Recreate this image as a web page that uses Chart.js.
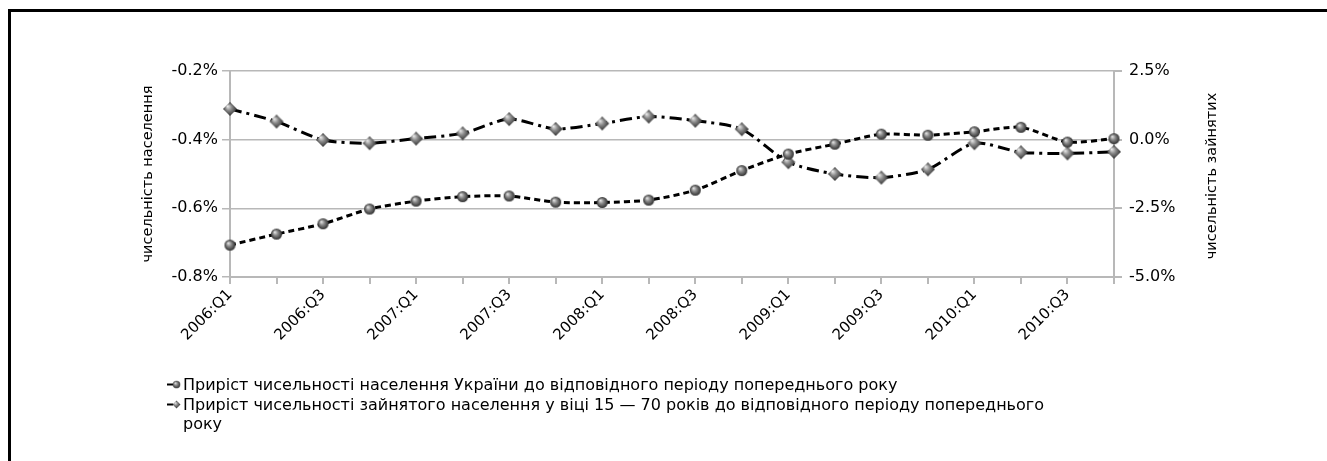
<!DOCTYPE html>
<html>
<head>
<meta charset="utf-8">
<script src="https://cdn.jsdelivr.net/npm/chart.js@4.4.1/dist/chart.umd.min.js"></script>
<style>
  html, body { margin: 0; padding: 0; background: #fff; overflow: hidden; }
  #wrap { position: relative; width: 1327px; height: 461px; }
  #c { position: absolute; left: 0; top: 0; }
  #frame { position: absolute; left: 8px; top: 9px; width: 1340px; height: 470px;
           border: 3px solid #000; box-sizing: border-box; pointer-events: none; }
  #legend { position: absolute; left: 166px; top: 375px; width: 897px;
            font: 16px "DejaVu Sans", sans-serif; color: #000; line-height: 19.5px; }
  .item { position: relative; padding-left: 17px; }
  .item canvas { position: absolute; left: 0; top: 4px; }
</style>
</head>
<body>
<div id="wrap">
  <canvas id="c" width="1327" height="461"></canvas>
  <div id="legend"></div>
  <div id="frame"></div>
</div>
<script>
// quarters 2006:Q1 .. 2010:Q4
const quarters = ['2006:Q1','2006:Q2','2006:Q3','2006:Q4',
                  '2007:Q1','2007:Q2','2007:Q3','2007:Q4',
                  '2008:Q1','2008:Q2','2008:Q3','2008:Q4',
                  '2009:Q1','2009:Q2','2009:Q3','2009:Q4',
                  '2010:Q1','2010:Q2','2010:Q3','2010:Q4'];

// приріст населення України, % (ліва вісь)
const popGrowth = [-0.707, -0.675, -0.645, -0.602, -0.579, -0.566, -0.564, -0.582,
                   -0.583, -0.576, -0.547, -0.490, -0.442, -0.413, -0.384, -0.387,
                   -0.377, -0.364, -0.407, -0.397];

// приріст зайнятого населення 15-70 років, % (права вісь)
const empGrowth = [1.12, 0.66, -0.01, -0.13, 0.04, 0.23, 0.75, 0.39,
                   0.59, 0.84, 0.69, 0.38, -0.82, -1.25, -1.38, -1.08,
                   -0.13, -0.46, -0.50, -0.44];

const popLabel = 'Приріст чисельності населення України до відповідного періоду попереднього року';
const empLabel = 'Приріст чисельності зайнятого населення у віці 15 — 70 років до відповідного періоду попереднього року';

const leftTitle = 'чисельність населення';
const rightTitle = 'чисельність зайнятих';

const FONT = '"DejaVu Sans", sans-serif';

// маркери з градієнтом (кулька / ромб)
function makeMarker(kind, r) {
  let c = document.createElement('canvas');
  c.width = c.height = r * 2 + 2;
  let x = c.getContext('2d');
  let m = r + 1;
  let g = x.createRadialGradient(m - r * 0.35, m - r * 0.4, 0, m, m, r);
  g.addColorStop(0, '#f2f2f2');
  g.addColorStop(0.45, '#8a8a8a');
  g.addColorStop(1, '#2e2e2e');
  x.fillStyle = g;
  x.beginPath();
  if (kind === 'circle') {
    x.arc(m, m, r, 0, Math.PI * 2);
  } else {
    x.moveTo(m, m - r); x.lineTo(m + r, m); x.lineTo(m, m + r); x.lineTo(m - r, m);
    x.closePath();
  }
  x.fill();
  return c;
}

const sphere = makeMarker('circle', 5.5);
const diamond = makeMarker('diamond', 7);

const axisTitles = {
  id: 'axisTitles',
  afterDraw(chart) {
    let ctx = chart.ctx, a = chart.chartArea;
    let cy = (a.top + a.bottom) / 2;
    [[leftTitle, 148, cy], [rightTitle, 1212, cy + 2]].forEach(([t, x, y]) => {
      ctx.save();
      ctx.font = '14.5px ' + FONT;
      ctx.fillStyle = '#000';
      ctx.textAlign = 'center';
      ctx.textBaseline = 'middle';
      ctx.translate(x, y);
      ctx.rotate(-Math.PI / 2);
      ctx.fillText(t, 0, 0);
      ctx.restore();
    });
  }
};

const gridColor = '#b8b8b8';

const chart = new Chart(document.getElementById('c'), {
  type: 'line',
  data: {
    labels: quarters,
    datasets: [{
      label: popLabel,
      data: popGrowth,
      yAxisID: 'y',
      borderColor: '#000',
      borderWidth: 3,
      borderDash: [6, 4],
      tension: 0.25,
      pointStyle: sphere,
      pointRadius: 5
    }, {
      label: empLabel,
      data: empGrowth,
      yAxisID: 'y1',
      borderColor: '#000',
      borderWidth: 3,
      borderDash: [12, 5, 3, 5],
      tension: 0.25,
      pointStyle: diamond,
      pointRadius: 6
    }]
  },
  options: {
    responsive: false,
    animation: false,
    layout: { padding: { top: 71, left: 0, right: 0, bottom: 0 } },
    plugins: { legend: { display: false }, tooltip: { enabled: false } },
    scales: {
      x: {
        offset: false,
        grid: { drawOnChartArea: false, color: gridColor, lineWidth: 2, tickLength: 7 },
        border: { color: gridColor, width: 2 },
        ticks: {
          autoSkip: false, minRotation: 45, maxRotation: 45, padding: 2,
          color: '#000', font: { family: FONT, size: 15 },
          callback: (v, i) => i % 2 === 0 ? quarters[i] : ''
        },
        afterFit: s => { s.height = 184; }
      },
      y: {
        position: 'left',
        min: -0.8, max: -0.2,
        grid: { color: gridColor, lineWidth: 1.5, tickLength: 8 },
        border: { color: gridColor, width: 2 },
        ticks: {
          stepSize: 0.2, padding: 4, color: '#000', font: { family: FONT, size: 16 },
          callback: v => v.toFixed(1) + '%'
        },
        afterFit: s => { s.width = 230; }
      },
      y1: {
        position: 'right',
        min: -5, max: 2.5,
        grid: { drawOnChartArea: false, color: gridColor, lineWidth: 2, tickLength: 8 },
        border: { color: gridColor, width: 2 },
        ticks: {
          stepSize: 2.5, padding: 7, color: '#000', font: { family: FONT, size: 16 },
          callback: v => v.toFixed(1) + '%'
        },
        afterFit: s => { s.width = 213; }
      }
    }
  },
  plugins: [axisTitles]
});

// легенда під графіком (з переносом рядків)
let legendEl = document.getElementById('legend');
chart.data.datasets.forEach(ds => {
  let item = document.createElement('div');
  item.className = 'item';
  let mk = document.createElement('canvas');
  mk.width = 16; mk.height = 11;
  let m = mk.getContext('2d');
  m.strokeStyle = '#000';
  m.lineWidth = 2;
  m.beginPath(); m.moveTo(1, 5.5); m.lineTo(7, 5.5); m.stroke();
  m.drawImage(ds.pointStyle, 6, 1, 9, 9);
  item.appendChild(mk);
  item.appendChild(document.createTextNode(ds.label));
  legendEl.appendChild(item);
});
</script>
</body>
</html>
